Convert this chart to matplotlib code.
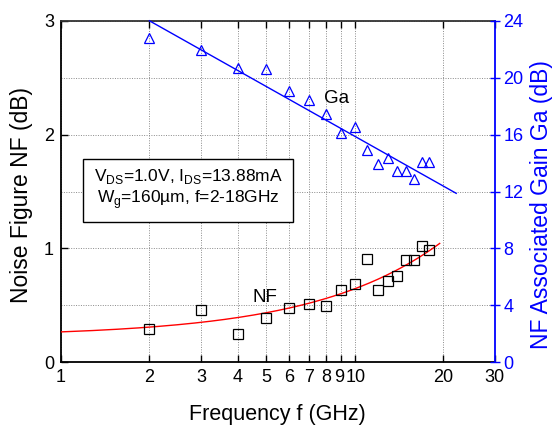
import numpy as np
import matplotlib
matplotlib.use("Agg")
import matplotlib.pyplot as plt
import matplotlib.transforms as mtransforms
from matplotlib.patches import Rectangle

plt.rcParams['font.family'] = ['Liberation Sans', 'DejaVu Sans']
plt.rcParams['mathtext.fontset'] = 'custom'
plt.rcParams['mathtext.rm'] = 'Liberation Sans'

# ---- data ----
freq_ghz = [2, 3, 4, 5, 6, 7, 8, 9, 10, 11, 12, 13, 14, 15, 16, 17, 18]
nf_db = [0.295, 0.457, 0.246, 0.386, 0.477, 0.515, 0.494, 0.635, 0.685,
         0.904, 0.635, 0.717, 0.755, 0.895, 0.895, 1.024, 0.986]
ga_db = [22.8, 21.96, 20.7, 20.63, 19.08, 18.43, 17.44, 16.1, 16.55,
         14.92, 13.93, 14.35, 13.44, 13.44, 12.88, 14.09, 14.09]
# fits: NF linear in f, Ga linear in log10(f)
nf_fit_coef = [0.225, 0.042]      # NF = a + b*f
nf_fit_range = [1.0, 19.5]
ga_fit_coef = [27.49, -11.6]      # Ga = a + b*log10(f)
ga_fit_range = [2.0, 22.2]
x_ticks = [1, 2, 3, 4, 5, 6, 7, 8, 9, 10, 20, 30]
x_ticklabels = ['1', '2', '3', '4', '5', '6', '7', '8', '9', '10', '20', '30']
nf_ticks = [0, 1, 2, 3]
ga_ticks = [0, 4, 8, 12, 16, 20, 24]

fig = plt.figure(figsize=(5.52, 4.29), dpi=100)
ax = fig.add_axes([0.1105, 0.1555, 0.7855, 0.7962])
ax2 = ax.twinx()

ax.set_xscale('log')
ax.set_xlim(1, 30)
ax.set_ylim(0, 3)
ax2.set_ylim(0, 24)

# grid
ax.set_xticks(x_ticks)
ax.set_xticklabels(x_ticklabels)
ax.xaxis.set_minor_locator(matplotlib.ticker.NullLocator())
ax.set_yticks(nf_ticks)
ax.set_yticks([0.5, 1.5, 2.5], minor=True)
ax.grid(True, which='both', axis='both', linestyle=(0, (1, 1.5)), color='#8a8a8a', linewidth=0.7)
ax.set_axisbelow(True)

# NF
f_nf = np.linspace(nf_fit_range[0], nf_fit_range[1], 200)
ax.plot(f_nf, nf_fit_coef[0] + nf_fit_coef[1] * f_nf, color='red', lw=1.0, zorder=3)
ax.plot(freq_ghz, nf_db, 's', mfc='none', mec='black', ms=6.5, mew=0.9, zorder=4)

# Ga
f_ga = np.geomspace(ga_fit_range[0], ga_fit_range[1], 200)
ax2.plot(f_ga, ga_fit_coef[0] + ga_fit_coef[1] * np.log10(f_ga), color='blue', lw=1.0, clip_on=False)
ax2.plot(freq_ghz, ga_db, '^', mfc='none', mec='blue', ms=7.5, mew=0.9)

# annotations
ax.text(8.7, 2.32, 'Ga', fontsize=13.5, ha='center', va='center')
ax.text(4.97, 0.565, 'NF', fontsize=13.5, ha='center', va='center')
ax.add_patch(Rectangle((0.0514, 0.4116), 0.4846, 0.1834, transform=ax.transAxes,
                       facecolor='white', edgecolor='black', lw=1.0, zorder=5))
ax.text(0.294, 0.545, r'V$_{\mathregular{DS}}$=1.0V, I$_{\mathregular{DS}}$=13.88mA',
        transform=ax.transAxes, fontsize=12.5, ha='center', va='center', zorder=6)
ax.text(0.294, 0.475, r'W$_{\mathregular{g}}$=160µm, f=2-18GHz',
        transform=ax.transAxes, fontsize=12.5, ha='center', va='center', zorder=6)

# axes styling
ax.set_xlabel('Frequency f (GHz)', fontsize=15.5)
ax.set_ylabel('Noise Figure NF (dB)', fontsize=16.5)
ax2.set_ylabel('NF Associated Gain Ga (dB)', fontsize=16.5, color='blue', rotation=90)
ax.xaxis.set_label_coords(0.5, -0.154)
ax.yaxis.set_label_coords(-0.09, 0.49)
ax2.yaxis.set_label_coords(1.109, 0.4605)
for lab in [ax.xaxis.label, ax.yaxis.label, ax2.yaxis.label]:
    lab.set_va('center')
    lab.set_ha('center')
ax.tick_params(axis='both', which='major', direction='in', length=5, width=1.0,
               labelsize=13, top=True, right=False, pad=5)
ax.tick_params(axis='y', which='minor', length=0)
ax2.set_yticks(ga_ticks)
ax2.tick_params(axis='y', direction='inout', length=7, width=1.0, colors='blue', labelsize=13, pad=3)

# nudge crowded '9' and '10' labels apart slightly
for lab, dx in zip(ax.get_xticklabels(), [0, 0, 0, 0, 0, 0, 0, 0, -1.5, 1.5, 0, 0]):
    if dx:
        lab.set_transform(lab.get_transform() + mtransforms.ScaledTranslation(dx / 100, 0, fig.dpi_scale_trans))

for s in ['left', 'bottom', 'top']:
    ax.spines[s].set_linewidth(1.3)
    ax.spines[s].set_color('black')
ax.spines['top'].set_color('#333333')
ax.spines['right'].set_visible(False)
for s in ['left', 'bottom', 'top']:
    ax2.spines[s].set_visible(False)
ax2.spines['right'].set_color('blue')
ax2.spines['right'].set_linewidth(1.3)

fig.savefig('out.png', dpi=100)
